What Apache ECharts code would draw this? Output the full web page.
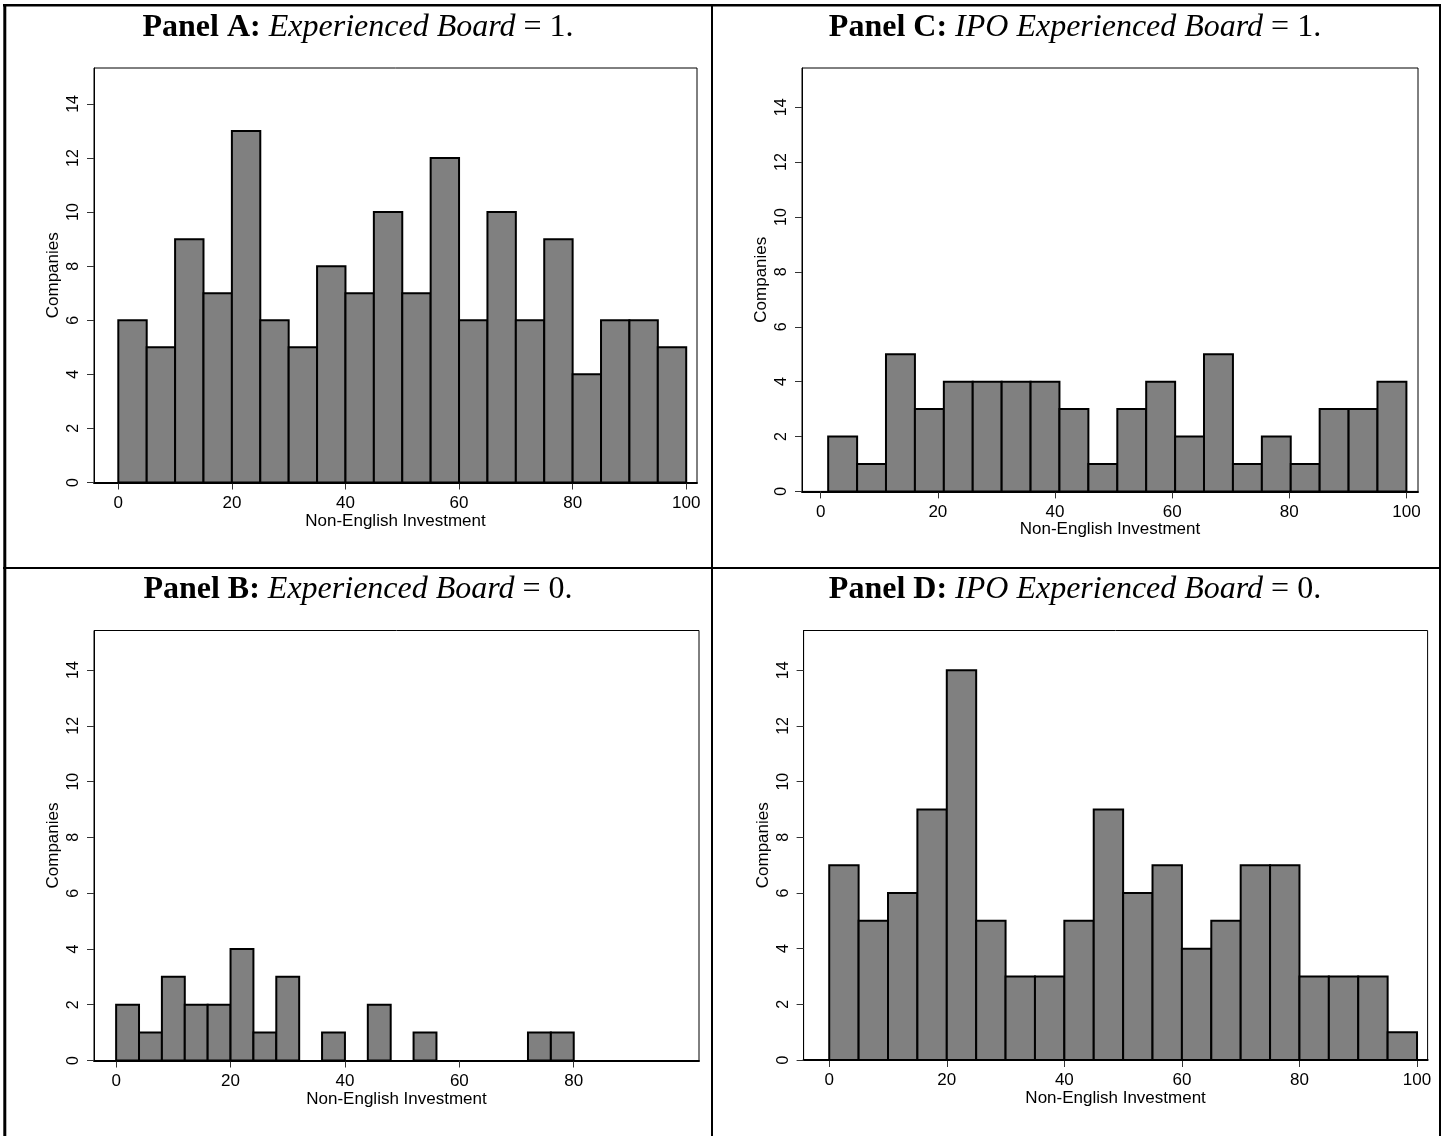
<!DOCTYPE html>
<html>
<head>
<meta charset="utf-8">
<script src="https://cdn.jsdelivr.net/npm/echarts@6/dist/echarts.min.js"></script>
<style>
    html, body { margin: 0; padding: 0; background: #fff; }
    #main { width: 1446px; height: 1136px; }
</style>
</head>
<body>
<div id="main"></div>
<script>
// bin counts
let countsA = [6, 5, 9, 7, 13, 6, 5, 8, 7, 10, 7, 12, 6, 10, 6, 9, 4, 6, 6, 5];
let countsB = [2, 1, 3, 2, 2, 4, 1, 3, 0, 1, 0, 2, 0, 1, 0, 0, 0, 0, 1, 1];
let countsC = [2, 1, 5, 3, 4, 4, 4, 4, 3, 1, 3, 4, 2, 5, 1, 2, 1, 3, 3, 4];
let countsD = [7, 5, 6, 9, 14, 5, 3, 3, 5, 9, 6, 7, 4, 5, 7, 7, 3, 3, 3, 1];

// bin edges
let edgesA = [0, 5, 10, 15, 20, 25, 30, 35, 40, 45, 50, 55, 60, 65, 70, 75, 80, 85, 90, 95, 100];
let edgesB = [0, 4, 8, 12, 16, 20, 24, 28, 32, 36, 40, 44, 48, 52, 56, 60, 64, 68, 72, 76, 80];
let edgesC = [1.27, 6.21, 11.14, 16.08, 21.02, 25.95, 30.89, 35.83, 40.76, 45.70, 50.64,
              55.57, 60.51, 65.44, 70.38, 75.32, 80.25, 85.19, 90.13, 95.06, 100];
let edgesD = [0, 5, 10, 15, 20, 25, 30, 35, 40, 45, 50, 55, 60, 65, 70, 75, 80, 85, 90, 95, 100];

// tick labels
let yTicks = [0, 2, 4, 6, 8, 10, 12, 14];
let xTicks = [0, 20, 40, 60, 80, 100];
let xTicksB = [0, 20, 40, 60, 80];

let titleA = '{b|Panel A:} {i|Experienced Board} = 1.';
let titleB = '{b|Panel B:} {i|Experienced Board} = 0.';
let titleC = '{b|Panel C:} {i|IPO Experienced Board} = 1.';
let titleD = '{b|Panel D:} {i|IPO Experienced Board} = 0.';

let xName = 'Non-English Investment';
let yName = 'Companies';

const SANS = '"Liberation Sans", Arial, sans-serif';
const SERIF = '"Liberation Serif", "Times New Roman", serif';

let panels = [
    {title: titleA, cx: 358, ty: 12, counts: countsA, edges: edgesA, ticks: xTicks,
        grid: {left: 94, top: 68, width: 603, height: 414.5}, xMin: -4.28, xMax: 101.9, yMax: 15.33},
    {title: titleB, cx: 358, ty: 574, counts: countsB, edges: edgesB, ticks: xTicksB,
        grid: {left: 94, top: 630.5, width: 605, height: 430}, xMin: -3.87, xMax: 101.9, yMax: 15.42},
    {title: titleC, cx: 1075, ty: 12, counts: countsC, edges: edgesC, ticks: xTicks,
        grid: {left: 802, top: 68, width: 616, height: 423.4}, xMin: -3.2, xMax: 101.98, yMax: 15.43},
    {title: titleD, cx: 1075, ty: 574, counts: countsD, edges: edgesD, ticks: xTicks,
        grid: {left: 803.6, top: 630.5, width: 624, height: 429.5}, xMin: -4.36, xMax: 101.8, yMax: 15.43}
];

function binData(edges, counts) {
    let data = [];
    for (let i = 0; i < counts.length; i++) {
        if (counts[i] > 0) {
            data.push([edges[i], edges[i + 1], counts[i]]);
        }
    }
    return data;
}

function renderBin(params, api) {
    let topLeft = api.coord([api.value(0), api.value(2)]);
    let bottomRight = api.coord([api.value(1), 0]);
    return {
        type: 'rect',
        shape: {
            x: topLeft[0],
            y: topLeft[1],
            width: bottomRight[0] - topLeft[0],
            height: bottomRight[1] - topLeft[1]
        },
        style: {fill: '#808080', stroke: '#000', lineWidth: 2}
    };
}

let option = {
    backgroundColor: '#fff',
    animation: false,
    title: [],
    grid: [],
    xAxis: [],
    yAxis: [],
    series: [],
    graphic: []
};

panels.forEach(function (p, i) {
    option.title.push({
        text: p.title,
        left: p.cx,
        top: p.ty,
        textAlign: 'center',
        padding: 0,
        textStyle: {
            fontFamily: SERIF, fontSize: 32, fontWeight: 'normal', color: '#000',
            rich: {
                b: {fontFamily: SERIF, fontSize: 32, fontWeight: 'bold', color: '#000'},
                i: {fontFamily: SERIF, fontSize: 32, fontStyle: 'italic', color: '#000'}
            }
        }
    });
    option.grid.push(Object.assign({
        show: true,
        borderColor: '#000',
        borderWidth: 1,
        backgroundColor: 'transparent'
    }, p.grid));
    option.xAxis.push({
        gridIndex: i,
        type: 'value',
        min: p.xMin,
        max: p.xMax,
        name: xName,
        nameLocation: 'middle',
        nameGap: 29,
        nameTextStyle: {fontFamily: SANS, fontSize: 17, color: '#000'},
        axisLine: {show: true, onZero: false, lineStyle: {color: '#000', width: 2}},
        axisTick: {show: true, length: 7, customValues: p.ticks, lineStyle: {color: '#333', width: 1}},
        axisLabel: {customValues: p.ticks, fontFamily: SANS, fontSize: 17, color: '#000', margin: 12},
        splitLine: {show: false}
    });
    option.yAxis.push({
        gridIndex: i,
        type: 'value',
        min: 0,
        max: p.yMax,
        name: yName,
        nameLocation: 'middle',
        nameRotate: 90,
        nameGap: 32,
        nameTextStyle: {fontFamily: SANS, fontSize: 17, color: '#000'},
        axisLine: {show: true, onZero: false, lineStyle: {color: '#000', width: 1}},
        axisTick: {show: true, length: 7, customValues: yTicks, lineStyle: {color: '#333', width: 1}},
        axisLabel: {customValues: yTicks, rotate: 90, fontFamily: SANS, fontSize: 16, color: '#000', margin: 12},
        splitLine: {show: false}
    });
    option.series.push({
        type: 'custom',
        xAxisIndex: i,
        yAxisIndex: i,
        silent: true,
        renderItem: renderBin,
        encode: {x: [0, 1], y: 2},
        data: binData(p.edges, p.counts)
    });
});

// table rules around the four panels
let rules = [
    {x1: 3, y1: 5.3, x2: 1441, y2: 5.3, w: 2.5},
    {x1: 4.8, y1: 4, x2: 4.8, y2: 1136, w: 3},
    {x1: 1440, y1: 4, x2: 1440, y2: 1136, w: 2},
    {x1: 712, y1: 4, x2: 712, y2: 1136, w: 2},
    {x1: 3, y1: 568, x2: 1441, y2: 568, w: 2}
];
rules.forEach(function (r) {
    option.graphic.push({
        type: 'line',
        silent: true,
        shape: {x1: r.x1, y1: r.y1, x2: r.x2, y2: r.y2},
        style: {stroke: '#000', lineWidth: r.w}
    });
});

let chart = echarts.init(document.getElementById('main'));
chart.setOption(option);
</script>
</body>
</html>
